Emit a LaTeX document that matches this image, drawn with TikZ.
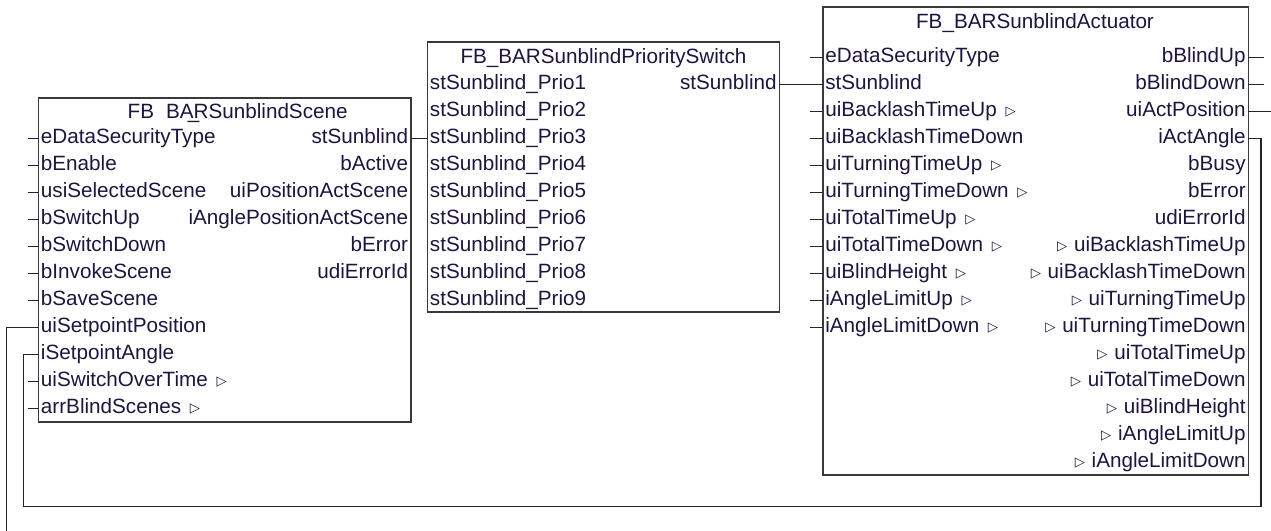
\documentclass[tikz,border=0pt]{standalone}
\usepackage{fontspec}
\setmainfont{Liberation Sans}
\newfontfamily\symfont{DejaVu Sans}[BoldFont={DejaVu Sans Bold}]
\usepackage{tikz}
\definecolor{fbtext}{RGB}{30,20,62}
\definecolor{fbline}{RGB}{35,35,35}
\newcommand{\tri}{\hspace{6.5pt}\raisebox{1pt}{\symfont\bfseries\fontsize{10}{10}\selectfont ▷}}
\newcommand{\itri}{\raisebox{1pt}{\symfont\bfseries\fontsize{10}{10}\selectfont ▷}\hspace{5pt}}

\begin{document}
\begin{tikzpicture}[
  x=0.75pt, y=-0.75pt,
  block/.style={draw=fbline!90, line width=1.2pt},
  wire/.style={draw=fbline, line width=0.8pt},
  fbpin/.style={inner xsep=1.8pt, inner ysep=0pt, text height=11pt, text depth=3pt},
  inpin/.style={fbpin, anchor=west},
  outpin/.style={fbpin, anchor=east},
  every node/.style={font=\fontsize{15.5}{18}\selectfont, text=fbtext}
]
  \useasboundingbox (0,0) rectangle (1271,531);

  \draw[block] (38.3,98.3) rectangle (410.7,421.7);
  \draw[block] (427.3,42.3) rectangle (779.3,311.7);
  \draw[block] (822.7,7.3) rectangle (1248.3,475);

  \node[fbpin, anchor=west] (scn-t) at (125,112.7) {FB\hspace{9pt}BA\makebox[0pt]{\_}RSunblindScene};
  \node[fbpin] (prio-t) at (603.5,57.7) {FB\_BARSunblindPrioritySwitch};
  \node[fbpin] (act-t) at (1035,22.7) {FB\_BARSunblindActuator};

  \foreach \lbl [count=\i] in {eDataSecurityType, bEnable, usiSelectedScene, bSwitchUp,
      bSwitchDown, bInvokeScene, bSaveScene, uiSetpointPosition, iSetpointAngle,
      uiSwitchOverTime\tri, arrBlindScenes\tri}
    \node[inpin] (scn-i\i) at (38.3,111.5+27*\i) {\lbl};
  \foreach \lbl [count=\i] in {stSunblind, bActive, uiPositionActScene,
      iAnglePositionActScene, bError, udiErrorId}
    \node[outpin] (scn-o\i) at (410.7,111.5+27*\i) {\lbl};

  \foreach \i in {1,...,9}
    \node[inpin] (prio-i\i) at (427.3,57.5+27*\i) {stSunblind\_Prio\i};
  \node[outpin] (prio-o1) at (779.3,84.5) {stSunblind};

  \foreach \lbl [count=\i] in {eDataSecurityType, stSunblind, uiBacklashTimeUp\tri,
      uiBacklashTimeDown, uiTurningTimeUp\tri, uiTurningTimeDown\tri, uiTotalTimeUp\tri,
      uiTotalTimeDown\tri, uiBlindHeight\tri, iAngleLimitUp\tri, iAngleLimitDown\tri}
    \node[inpin] (act-i\i) at (822.7,30.5+27*\i) {\lbl};
  \foreach \lbl [count=\i] in {bBlindUp, bBlindDown, uiActPosition, iActAngle, bBusy,
      bError, udiErrorId, \itri uiBacklashTimeUp, \itri uiBacklashTimeDown,
      \itri uiTurningTimeUp, \itri uiTurningTimeDown, \itri uiTotalTimeUp,
      \itri uiTotalTimeDown, \itri uiBlindHeight, \itri iAngleLimitUp, \itri iAngleLimitDown}
    \node[outpin] (act-o\i) at (1248.3,30.5+27*\i) {\lbl};

  \foreach \i in {1,...,7,10,11}
    \draw[wire] (scn-i\i.west) -- ++(-10,0);
  \foreach \i in {1,3,4,...,11}
    \draw[wire] (act-i\i.west) -- ++(-12.7,0);
  \foreach \i in {1,2}
    \draw[wire] (act-o\i.east) -- ++(16,0);

  \draw[wire] (scn-o1.east) -- (prio-i3.west);
  \draw[wire] (prio-o1.east) -- (act-i2.west);

  \coordinate (edgeR) at (1271,111.5);
  \coordinate (edgeB) at (6.7,531);
  \draw[wire] (act-o3.east) -- (edgeR);
  \draw[wire] (scn-i8.west) -| (edgeB);

  \coordinate (loopR) at (1261,506.7);
  \coordinate (loopL) at (23.3,506.7);
  \draw[wire] (act-o4.east) -| (loopR) -- (loopL) |- (scn-i9.west);
\end{tikzpicture}
\end{document}
